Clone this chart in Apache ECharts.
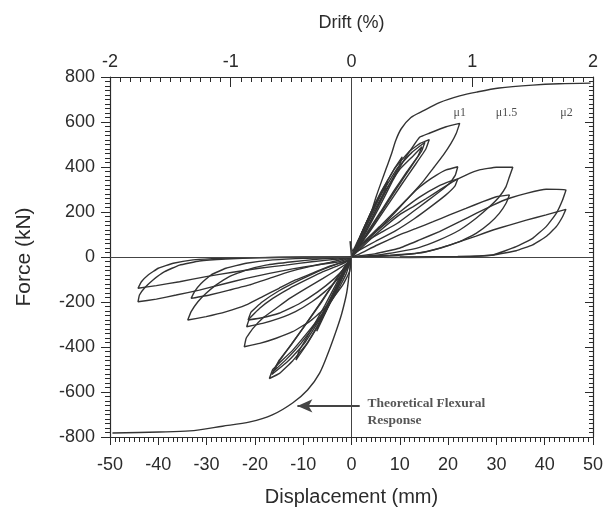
<!DOCTYPE html>
<html>
<head>
<meta charset="utf-8">
<script src="https://cdn.jsdelivr.net/npm/echarts@6/dist/echarts.min.js"></script>
<style>
  html, body { margin: 0; padding: 0; background: #fff; }
  #chart { width: 606px; height: 512px; }
</style>
</head>
<body>
<div id="chart"></div>
<script>
// Axis ranges (tick labels)
const dispTicks = [-50, -40, -30, -20, -10, 0, 10, 20, 30, 40, 50];   // mm
const driftTicks = [-2, -1, 0, 1, 2];                                  // %
const forceTicks = [-800, -600, -400, -200, 0, 200, 400, 600, 800];    // kN

// Theoretical flexural response (displacement mm, force kN)
const theoryPos = [[0,0],[2,100],[4.1,201],[5.1,268],[6.2,335],[7.2,394],[8.2,453],[9.2,520],[10.3,570],[12.3,620],[14.7,648],[18.2,686],[22.4,716],[25.9,733],[30.6,751],[37.5,764],[43,770],[49.5,773]];
const theoryNeg = [[0,0],[-0.5,-80],[-1,-160],[-2,-250],[-2.9,-311],[-4.6,-413],[-6.6,-516],[-9.1,-591],[-12.2,-649],[-16.4,-702],[-21,-733],[-26.7,-752],[-33.5,-773],[-39.8,-778],[-49.5,-782]];

// Pre-yield cycles, push direction
const prePos1 = [[0,0],[-0.3,70],[0.2,25],[1.5,80],[3,150],[4.2,205],[3.6,165],[2.2,95],[0.8,30],[0,0]];
const prePos2 = [[0,0],[2.5,125],[5,240],[7.5,335],[6.8,290],[4.8,195],[2.5,95],[0.5,15]];
const prePos3 = [[0,0],[3,145],[6,280],[8.8,390],[10.5,445],[9.9,405],[7.8,320],[5,205],[2.4,95],[0.5,15]];
const prePos4 = [[0,0],[3,150],[6,285],[9,395],[12,470],[14.2,505],[16.1,522],[15.4,480],[13.2,410],[10.3,320],[7,215],[4,120],[1.5,45],[0,0]];
const prePos5 = [[0,0],[3.2,150],[6.5,290],[9.5,395],[12.5,465],[15.2,510],[14.5,470],[12.3,400],[9.5,310],[6.5,210],[3.5,110],[1,30]];
const prePos6 = [[0,0],[3.5,155],[7,295],[10,390],[12.8,450],[14.6,490],[13.8,450],[11.5,380],[8.8,295],[6,200],[3,100],[0.8,25]];

// Pre-yield cycles, pull direction
const preNeg1 = [[0,0],[-1.5,-75],[-3,-145],[-4.2,-195],[-3.6,-160],[-2.2,-95],[-0.8,-30],[0,0]];
const preNeg2 = [[0,0],[-2.5,-120],[-5,-230],[-7.2,-330],[-6.5,-280],[-4.5,-190],[-2.3,-90],[-0.5,-15]];
const preNeg3 = [[0,0],[-3,-140],[-6,-270],[-9,-380],[-11.5,-458],[-10.8,-415],[-8.5,-330],[-5.5,-215],[-2.7,-100],[-0.5,-15]];
const preNeg4 = [[0,0],[-2,-85],[-4,-185],[-6.5,-285],[-9.4,-390],[-12.2,-462],[-14.9,-517],[-17,-540],[-16.3,-500],[-14.9,-470],[-12.2,-415],[-8.7,-325],[-5.9,-250],[-3.1,-160],[-1.1,-75],[0,0]];
const preNeg5 = [[0,0],[-3.2,-145],[-6.5,-275],[-9.8,-385],[-13,-460],[-16.5,-522],[-15.5,-480],[-13,-405],[-10,-315],[-6.8,-215],[-3.5,-110],[-1,-30]];
const preNeg6 = [[0,0],[-3.5,-150],[-7,-285],[-10.5,-385],[-13.5,-455],[-16,-505],[-15,-460],[-12.5,-390],[-9.5,-300],[-6.2,-200],[-3,-95],[-0.8,-25]];

// Ductility 1 cycles
const mu1Pos1 = [[0,0],[1,35],[3,110],[5.8,224],[8.6,342],[11.3,446],[14.1,532],[16.1,550],[19.6,579],[22.4,594],[21.7,550],[20.6,505],[19,453],[16.9,394],[14.8,335],[12,268],[9.2,202],[6.5,142],[3.7,90],[1.6,46],[0.3,16]];
const mu1Pos2 = [[0,0],[1,31],[3,76],[5.8,135],[8.6,194],[11.3,253],[13.4,298],[15.5,334],[17.6,364],[19.6,387],[22,401],[21.5,364],[20.3,327],[18.2,290],[15.5,246],[12.7,201],[9.5,150],[5.8,105],[2.4,61],[0.3,24]];
const mu1Pos3 = [[0,0],[1,25],[5,110],[10,200],[14,265],[18,315],[20.5,337],[22,347],[21.4,315],[19.5,275],[16.5,225],[13,170],[9,115],[5,70],[2,35],[0,10]];
const mu1Neg1 = [[0,0],[-0.4,-65],[-1.8,-124],[-3.9,-184],[-5.9,-236],[-8.7,-287],[-12.2,-332],[-15.6,-361],[-19,-384],[-22.2,-399],[-21.8,-361],[-20.4,-317],[-18.4,-272],[-15.6,-228],[-12.8,-184],[-9.4,-139],[-5.9,-95],[-3.1,-58],[-0.4,-21],[0,0]];
const mu1Neg2 = [[0,0],[-0.6,-43],[-2.7,-95],[-5.5,-154],[-8.2,-199],[-11.6,-243],[-15,-273],[-18.4,-295],[-21.7,-310],[-21.1,-273],[-19,-228],[-16.3,-184],[-12.8,-139],[-9.4,-102],[-5.9,-65],[-2.5,-36],[0,-10]];
const mu1Neg3 = [[0,0],[-1,-40],[-3.5,-95],[-7,-155],[-11,-210],[-15,-250],[-18.5,-270],[-21.4,-280],[-20.8,-245],[-18.5,-200],[-15,-150],[-11,-105],[-7,-65],[-3.5,-35],[0,-8]];

// Ductility 1.5 cycles
const mu15Pos1 = [[0,0],[2,40],[5,100],[9.9,187],[12.7,223],[15.5,260],[18.2,297],[20.9,334],[23.7,364],[26.5,387],[30,399],[33.4,399],[32.7,357],[32,313],[30.6,268],[28.6,224],[25.8,172],[22.4,120],[18.2,76],[14.1,43],[9.9,24],[5,8],[1,2]];
const mu15Pos2 = [[0,0],[1.5,12],[5,50],[9.9,98],[13.4,127],[16.9,157],[20.3,187],[23.7,216],[27.2,246],[30,268],[32.7,276],[32,239],[30.6,194],[28.6,150],[25.8,105],[22.4,68],[18.2,39],[13.4,16],[8,5],[2,0]];
const mu15Neg1 = [[0,0],[-1.4,-21],[-4.8,-43],[-8.2,-73],[-11.6,-102],[-15,-139],[-18.4,-176],[-21.8,-213],[-25.9,-243],[-30.1,-265],[-33.9,-280],[-33.2,-243],[-31.8,-199],[-30.1,-161],[-28,-124],[-25.3,-87],[-21.8,-58],[-17.7,-36],[-12.2,-21],[-6.7,-9],[-1.2,-3]];
const mu15Neg2 = [[0,0],[-4.5,-24],[-8.7,-43],[-12.8,-65],[-17,-95],[-21.1,-124],[-25.3,-147],[-29.4,-169],[-33.2,-184],[-32.5,-154],[-31.1,-117],[-29.1,-80],[-26,-50],[-21.8,-28],[-16.3,-13],[-9.4,-6],[0,-2]];

// Ductility 2 cycles
const mu2Pos1 = [[0,0],[5,15],[9.9,39],[14.1,76],[18.2,113],[22.4,157],[25.8,194],[29.3,231],[32.7,261],[36.2,283],[40.3,301],[44.4,298],[43.7,253],[42.4,194],[40.3,135],[37.5,83],[34.1,46],[29.3,9],[23.7,0],[12,-2],[0,0]];
const mu2Pos2 = [[0,0],[8,8],[14.8,20],[18.9,43],[22.4,68],[25.8,93],[29.3,120],[32.7,142],[36.2,164],[40.3,187],[44.4,212],[43.7,179],[42.4,135],[40.3,91],[37.5,54],[34.1,28],[29.3,9],[22,2],[10,0]];
const mu2Neg1 = [[0,0],[-2.5,-21],[-7.4,-36],[-12.2,-53],[-17,-73],[-21.8,-95],[-26.7,-121],[-31.5,-147],[-36.3,-169],[-40.4,-187],[-44.2,-199],[-43.9,-169],[-42.9,-139],[-41.1,-102],[-38.7,-65],[-35.6,-36],[-31.5,-18],[-26,-9],[-19.1,-3],[-10.1,0],[0,0]];
const mu2Neg2 = [[0,0],[-2.7,-9],[-8.2,-21],[-13.6,-36],[-19.1,-50],[-24.6,-68],[-30.1,-87],[-35.6,-110],[-40.4,-127],[-44.2,-139],[-43.5,-110],[-42.1,-80],[-40,-50],[-36.9,-28],[-32.8,-13],[-27.3,-6],[-15,-2],[0,0]];

const theoryCurves = [theoryPos, theoryNeg];
const cycleCurves = [
  prePos1, prePos2, prePos3, prePos4, prePos5, prePos6,
  preNeg1, preNeg2, preNeg3, preNeg4, preNeg5, preNeg6,
  mu1Pos1, mu1Pos2, mu1Pos3, mu1Neg1, mu1Neg2, mu1Neg3,
  mu15Pos1, mu15Pos2, mu15Neg1, mu15Neg2,
  mu2Pos1, mu2Pos2, mu2Neg1, mu2Neg2
];

// Ductility level tags and the theoretical-response callout
const ductilityTags = ['\u03bc1', '\u03bc1.5', '\u03bc2'];
const ductilityTagAt = [[22.4, 640], [32.1, 640], [44.5, 640]];
const calloutText = 'Theoretical Flexural\nResponse';
const calloutAt = [3.3, -687];
const arrowFrom = [1.7, -662];
const arrowTo = [-11.2, -662];

const INK = '#2b2b2b';
const LINE = '#333';
const sans = 'Liberation Sans, Arial, sans-serif';
const serif = 'Liberation Serif, Times New Roman, serif';

const chart = echarts.init(document.getElementById('chart'), null, { renderer: 'canvas' });

function curveSeries(d, smooth) {
  return {
    type: 'line',
    data: d,
    xAxisIndex: 0,
    yAxisIndex: 0,
    showSymbol: false,
    symbol: 'none',
    silent: true,
    smooth: smooth,
    z: 3,
    lineStyle: { color: LINE, width: 1.4 }
  };
}

const series = theoryCurves.map(function (d) { return curveSeries(d, 0.3); })
  .concat(cycleCurves.map(function (d) { return curveSeries(d, 0.1); }));

// Zero lines through the origin
series[0].markLine = {
  silent: true,
  symbol: 'none',
  animation: false,
  label: { show: false },
  lineStyle: { color: '#444', width: 1, type: 'solid' },
  data: [{ xAxis: 0 }, { yAxis: 0 }]
};

series.push(
  {
    type: 'line',
    data: [],
    xAxisIndex: 0,
    yAxisIndex: 0,
    markLine: {
      silent: true,
      animation: false,
      symbol: ['none', 'arrow'],
      symbolSize: [10, 15],
      label: { show: false },
      lineStyle: { color: '#444', width: 1.8, type: 'solid' },
      data: [[{ coord: arrowFrom }, { coord: arrowTo }]]
    }
  },
  {
    type: 'scatter',
    xAxisIndex: 0,
    yAxisIndex: 0,
    symbolSize: 0,
    silent: true,
    data: ductilityTags.map(function (t, i) {
      return { value: ductilityTagAt[i], name: t };
    }),
    label: {
      show: true,
      position: 'inside',
      formatter: function (p) { return p.name; },
      color: '#222',
      fontFamily: serif,
      fontSize: 12
    }
  },
  {
    type: 'scatter',
    xAxisIndex: 0,
    yAxisIndex: 0,
    symbolSize: 0,
    silent: true,
    data: [{ value: calloutAt, name: calloutText }],
    label: {
      show: true,
      position: 'right',
      distance: 0,
      align: 'left',
      formatter: function (p) { return p.name; },
      color: '#2a2a2a',
      fontFamily: serif,
      fontWeight: 'bold',
      fontSize: 13.5,
      lineHeight: 17
    }
  }
);

const axisLineStyle = { color: INK, width: 1.2 };

chart.setOption({
  animation: false,
  backgroundColor: '#fff',
  grid: { left: 110, right: 13, top: 77, bottom: 75, containLabel: false },
  xAxis: [
    {
      type: 'value',
      position: 'bottom',
      min: dispTicks[0],
      max: dispTicks[dispTicks.length - 1],
      interval: dispTicks[1] - dispTicks[0],
      name: 'Displacement (mm)',
      nameLocation: 'middle',
      nameGap: 50,
      nameTextStyle: { color: INK, fontFamily: sans, fontSize: 20 },
      axisLine: { show: true, onZero: false, lineStyle: axisLineStyle },
      axisTick: { show: true, inside: false, length: 8, lineStyle: { color: INK } },
      minorTick: { show: true, splitNumber: 10, length: 5, lineStyle: { color: INK } },
      axisLabel: { color: INK, fontFamily: sans, fontSize: 18, margin: 19 },
      splitLine: { show: false },
      minorSplitLine: { show: false }
    },
    {
      type: 'value',
      position: 'top',
      min: driftTicks[0],
      max: driftTicks[driftTicks.length - 1],
      interval: driftTicks[1] - driftTicks[0],
      name: 'Drift (%)',
      nameLocation: 'middle',
      nameGap: 45,
      nameTextStyle: { color: INK, fontFamily: sans, fontSize: 18 },
      axisLine: { show: true, onZero: false, lineStyle: axisLineStyle },
      axisTick: { show: true, inside: true, length: 10, lineStyle: { color: INK } },
      minorTick: { show: true, splitNumber: 12, length: 5, lineStyle: { color: INK } },
      axisLabel: { color: INK, fontFamily: sans, fontSize: 18, margin: 6 },
      splitLine: { show: false }
    }
  ],
  yAxis: [
    {
      type: 'value',
      position: 'left',
      min: forceTicks[0],
      max: forceTicks[forceTicks.length - 1],
      interval: forceTicks[1] - forceTicks[0],
      name: 'Force (kN)',
      nameLocation: 'middle',
      nameRotate: 90,
      nameGap: 75,
      nameTextStyle: { color: INK, fontFamily: sans, fontSize: 21 },
      axisLine: { show: true, onZero: false, lineStyle: axisLineStyle },
      axisTick: { show: true, inside: false, length: 9, lineStyle: { color: INK } },
      minorTick: { show: true, splitNumber: 10, length: 5, lineStyle: { color: INK } },
      axisLabel: { color: INK, fontFamily: sans, fontSize: 18, margin: 15 },
      splitLine: { show: false }
    },
    {
      type: 'value',
      position: 'right',
      min: forceTicks[0],
      max: forceTicks[forceTicks.length - 1],
      interval: forceTicks[1] - forceTicks[0],
      axisLine: { show: true, onZero: false, lineStyle: axisLineStyle },
      axisTick: { show: true, inside: true, length: 8, lineStyle: { color: INK } },
      minorTick: { show: true, splitNumber: 10, length: 4, lineStyle: { color: INK } },
      axisLabel: { show: false },
      splitLine: { show: false }
    }
  ],
  series: series
});
</script>
</body>
</html>
